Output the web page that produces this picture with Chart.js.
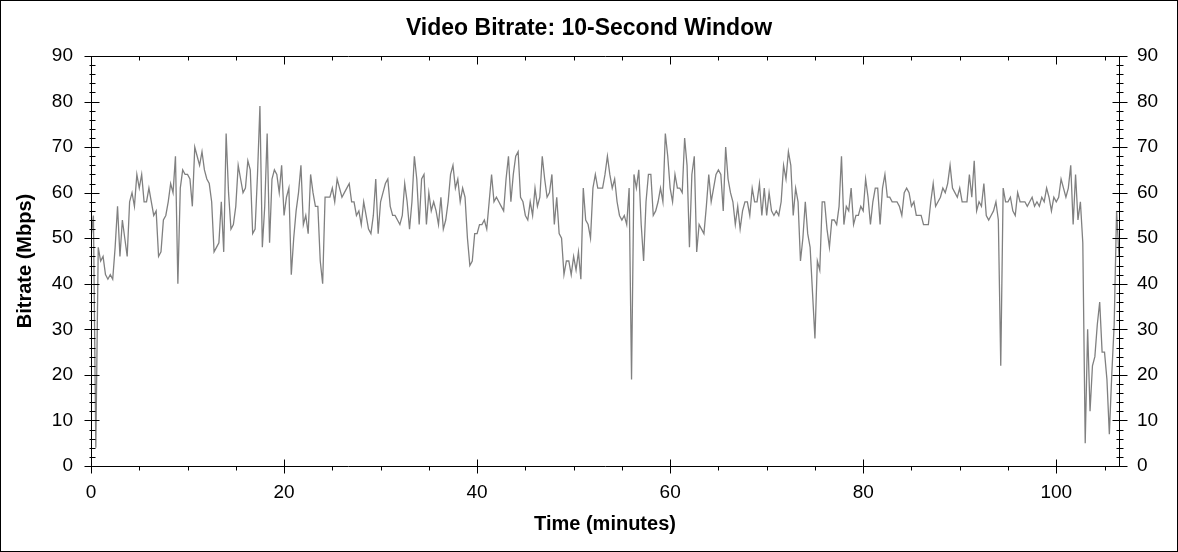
<!DOCTYPE html>
<html>
<head>
<meta charset="utf-8">
<title>Video Bitrate: 10-Second Window</title>
<script src="https://cdn.jsdelivr.net/npm/chart.js@4.4.1/dist/chart.umd.min.js"></script>
<style>
  html, body { margin: 0; padding: 0; background: #fff; }
  #chart { display: block; }
</style>
</head>
<body>
<canvas id="chart" width="1178" height="552"></canvas>
<script>
// one reading every quarter minute (Mbps)
const STEP_MIN = 0.25;
const bitrate = [
  50, 55, 4, 48,   45, 46, 42, 41,   42, 41, 48, 57,   46, 54, 50, 46,   // 0-3
  58, 60, 57, 64,  61, 64, 58, 58,   61, 58, 55, 56,   46, 47, 54, 55,   // 4-7
  58, 62, 60, 68,  40, 61, 65, 64,   64, 63, 57, 70,   68, 66, 69, 65,   // 8-11
  63, 62, 58, 47,  48, 49, 58, 47,   73, 60, 52, 53,   57, 66, 63, 60,   // 12-15
  61, 67, 65, 51,  52, 64, 79, 48,   57, 73, 49, 63,   65, 64, 60, 66,   // 16-19
  55, 59, 61, 42,  50, 56, 60, 66,   53, 55, 51, 64,   60, 57, 57, 45,   // 20-23
  40, 59, 59, 59,  61, 58, 63, 61,   59, 60, 61, 62,   58, 58, 55, 56,   // 24-27
  53, 58, 55, 52,  51, 55, 63, 51,   58, 60, 62, 63,   57, 55, 55, 54,   // 28-31
  53, 55, 62, 58,  52, 58, 68, 63,   53, 63, 64, 53,   60, 56, 58, 56,   // 32-35
  53, 59, 52, 54,  58, 64, 66, 61,   63, 58, 61, 59,   50, 44, 45, 51,   // 36-39
  51, 53, 53, 54,  52, 58, 64, 58,   59, 58, 57, 56,   63, 68, 58, 64,   // 40-43
  68, 69, 59, 58,  55, 54, 58, 55,   61, 57, 59, 68,   63, 59, 60, 64,   // 44-47
  53, 59, 51, 50,  42, 45, 45, 42,   46, 43, 47, 41,   61, 54, 53, 50,   // 48-51
  61, 64, 61, 61,  61, 64, 68, 64,   61, 63, 58, 55,   54, 55, 53, 61,   // 52-55
  19, 64, 61, 65,  53, 45, 58, 64,   64, 55, 56, 58,   61, 58, 73, 68,   // 56-59
  61, 58, 64, 61,  61, 60, 72, 66,   48, 64, 68, 47,   53, 52, 51, 57,   // 60-63
  64, 58, 61, 64,  65, 64, 56, 70,   63, 60, 58, 53,   57, 52, 56, 58,   // 64-67
  58, 55, 61, 58,  58, 62, 55, 61,   55, 60, 56, 55,   56, 55, 58, 66,   // 68-71
  63, 69, 66, 55,  61, 58, 45, 50,   58, 51, 48, 38,   28, 45, 43, 58,   // 72-75
  58, 52, 48, 54,  54, 53, 57, 68,   53, 57, 56, 61,   53, 55, 55, 57,   // 76-79
  56, 63, 59, 53,  58, 61, 61, 53,   61, 64, 59, 59,   58, 58, 58, 57,   // 80-83
  55, 60, 61, 60,  57, 58, 55, 55,   55, 53, 53, 53,   58, 62, 57, 58,   // 84-87
  59, 61, 60, 62,  66, 61, 60, 59,   61, 58, 58, 58,   64, 59, 67, 56,   // 88-91
  58, 57, 62, 55,  54, 55, 56, 58,   54, 22, 61, 58,   58, 59, 56, 55,   // 92-95
  60, 58, 58, 58,  57, 58, 59, 57,   58, 57, 59, 58,   61, 59, 56, 59,   // 96-99
  58, 59, 63, 61,  59, 61, 66, 53,   64, 54, 58, 49,   5, 30, 12, 22,    // 100-103
  24, 31, 36, 25,  25, 19, 7, 20,    31, 56, 46                           // 104-106.5
];
const times = bitrate.map((v, i) => i * STEP_MIN);

const X_MAX = 106.5, Y_MAX = 90;
const X_MAJOR = 20, X_MINOR = 5, Y_MAJOR = 10, Y_MINOR = 2;

const FONT = "'Liberation Sans', Arial, sans-serif";

// axis frame, tick marks (majors cross the axis, minors are short) and the outer border
const frameTicks = {
  id: 'frameTicks',
  beforeDraw(chart) {
    const ctx = chart.ctx;
    ctx.save();
    ctx.fillStyle = '#fff';
    ctx.fillRect(0, 0, chart.width, chart.height);
    ctx.restore();
  },
  afterDatasetsDraw(chart) {
    const {ctx, chartArea: a, scales} = chart;
    const xs = scales.x, ys = scales.y;
    const L = Math.round(a.left) + 0.5, R = Math.round(a.right) + 0.5;
    const T = Math.round(a.top) + 0.5, B = Math.round(a.bottom) + 0.5;
    ctx.save();
    ctx.strokeStyle = '#000';
    ctx.lineWidth = 1;
    ctx.beginPath();
    function seg(x1, y1, x2, y2) { ctx.moveTo(x1, y1); ctx.lineTo(x2, y2); }
    ctx.rect(L, T, R - L, B - T);
    for (let v = 0; v <= Y_MAX; v += Y_MINOR) {
      const y = Math.round(ys.getPixelForValue(v)) + 0.5;
      if (v % Y_MAJOR === 0) {
        seg(L - 7, y, L + 8, y);
        seg(R - 7, y, R + 8, y);
      } else {
        seg(L - 2, y, L + 4, y);
        seg(R - 3, y, R + 4, y);
      }
    }
    for (let v = 0; v <= X_MAX; v += X_MINOR) {
      const x = Math.round(xs.getPixelForValue(v)) + 0.5;
      if (v % X_MAJOR === 0) {
        seg(x, B - 7, x, B + 7);
        seg(x, T, x, T + 8);
      } else {
        seg(x, B, x, B + 4);
        seg(x, T, x, T + 4);
      }
    }
    ctx.stroke();
    ctx.strokeRect(0.5, 0.5, chart.width - 1, chart.height - 1);
    ctx.restore();
  }
};

const tickFont = { family: FONT, size: 19 };
const titleFont = { family: FONT, size: 20, weight: 'bold' };

new Chart(document.getElementById('chart'), {
  type: 'line',
  data: {
    datasets: [{
      label: 'Bitrate',
      data: times.map((t, i) => ({ x: t, y: bitrate[i] })),
      borderColor: '#808080',
      borderWidth: 1.3,
      pointRadius: 0,
      tension: 0,
      fill: false
    }]
  },
  options: {
    responsive: false,
    animation: false,
    events: [],
    layout: { padding: 0 },
    plugins: {
      legend: { display: false },
      tooltip: { enabled: false },
      title: {
        display: true,
        text: 'Video Bitrate: 10-Second Window',
        color: '#000',
        font: { family: FONT, size: 23, weight: 'bold' },
        padding: { top: 14.5, bottom: 13.9 }
      }
    },
    scales: {
      x: {
        type: 'linear',
        min: 0,
        max: X_MAX,
        grid: { display: false, drawTicks: false },
        border: { display: false },
        ticks: {
          stepSize: X_MAJOR, includeBounds: false, autoSkip: false, maxRotation: 0,
          color: '#000', font: tickFont, padding: 15
        },
        title: {
          display: true, text: 'Time (minutes)', color: '#000', font: titleFont,
          padding: { top: 0, bottom: 16 }
        },
        afterFit(s) { s.height = 86; }
      },
      y: {
        position: 'left',
        min: 0,
        max: Y_MAX,
        grid: { display: false, drawTicks: false },
        border: { display: false },
        ticks: { stepSize: Y_MAJOR, color: '#000', font: tickFont, padding: 18 },
        title: {
          display: true, text: 'Bitrate (Mbps)', color: '#000', font: titleFont,
          padding: { top: 13, bottom: 0 }
        },
        afterFit(s) { s.width = 91; }
      },
      y2: {
        position: 'right',
        min: 0,
        max: Y_MAX,
        grid: { display: false, drawTicks: false },
        border: { display: false },
        ticks: { stepSize: Y_MAJOR, color: '#000', font: tickFont, padding: 18 },
        afterFit(s) { s.width = 59; }
      }
    }
  },
  plugins: [frameTicks]
});
</script>
</body>
</html>
